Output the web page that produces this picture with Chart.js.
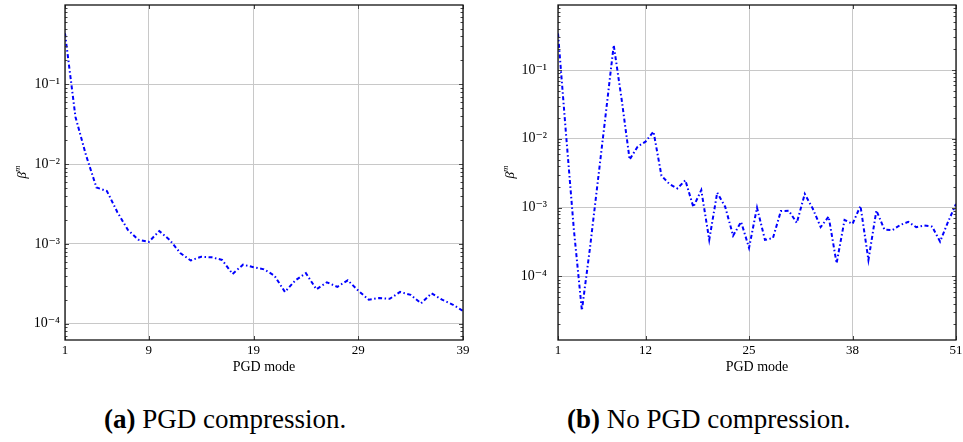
<!DOCTYPE html>
<html lang="en">
<head>
    <meta charset="UTF-8">
    <title>PGD mode amplitudes</title>
    <script src="https://cdn.jsdelivr.net/npm/chart.js"></script>
    <style>
        body {
            margin: 0;
            width: 963px;
            height: 442px;
            position: relative;
            overflow: hidden;
            background: #fff;
            font-family: 'Liberation Serif', 'DejaVu Serif', serif;
            color: #000;
        }

        .wrap {
            position: absolute;
            top: 0;
            height: 380px;
        }

        .ytitle {
            position: absolute;
            font-size: 13px;
            font-style: italic;
            transform: translate(-50%, -50%) rotate(-90deg);
            white-space: nowrap;
        }

        .ytitle sup {
            font-size: 9px;
            font-style: italic;
        }

        .xtitle {
            position: absolute;
            top: 359px;
            font-size: 14px;
            line-height: 16px;
            transform: translateX(-50%);
            white-space: nowrap;
        }

        .caption {
            position: absolute;
            top: 406px;
            font-size: 27px;
            line-height: 27px;
            white-space: nowrap;
        }
    </style>
</head>
<body>
    <div class="wrap" style="left:0; width:480px;"><canvas id="chartA"></canvas></div>
    <div class="wrap" style="left:480px; width:483px;"><canvas id="chartB"></canvas></div>

    <div class="ytitle" style="left:21px; top:172px;">β<sup>m</sup></div>
    <div class="ytitle" style="left:509px; top:172px;">β<sup>m</sup></div>
    <div class="xtitle" style="left:264px;">PGD mode</div>
    <div class="xtitle" style="left:757px;">PGD mode</div>

    <div class="caption" style="left:104px;"><b>(a)</b> PGD compression.</div>
    <div class="caption" style="left:567px;"><b>(b)</b> No PGD compression.</div>

    <script>
        // (a) PGD compression, modes 1..39
        const betaA = [0.435, 0.039, 0.013, 0.0051, 0.0046, 0.0025, 0.0015, 0.00113, 0.00106, 0.00145,
                       0.00112, 0.00077, 0.00062, 0.00069, 0.00068, 0.00063, 0.00042, 0.00055, 0.00051, 0.00048,
                       0.00040, 0.00025, 0.00035, 0.00043, 0.00027, 0.00033, 0.00029, 0.00035, 0.00026, 0.00020,
                       0.00021, 0.000205, 0.00025, 0.00023, 0.00018, 0.00024, 0.00020, 0.000174, 0.000145];
        const xTicksA = [1, 9, 19, 29, 39];

        // (b) No PGD compression, modes 1..51
        const betaB = [0.34, 0.012, 0.00047, 0.000032, 0.00025, 0.0024, 0.023, 0.23, 0.037, 0.0050,
                       0.0077, 0.0091, 0.0127, 0.0029, 0.0022, 0.0019, 0.0025, 0.00102, 0.0018, 0.00034,
                       0.00165, 0.00103, 0.00039, 0.00062, 0.00026, 0.0010, 0.00034, 0.00036, 0.00089, 0.00090,
                       0.00060, 0.00158, 0.00097, 0.00052, 0.00074, 0.000155, 0.00066, 0.00058, 0.00106, 0.000173,
                       0.00091, 0.00048, 0.00047, 0.00056, 0.00062, 0.00052, 0.00055, 0.00053, 0.00032, 0.00062,
                       0.00113];
        const xTicksB = [1, 12, 25, 38, 51];

        const supDigits = { '-': '⁻', '0': '⁰', '1': '¹', '2': '²', '3': '³', '4': '⁴', '5': '⁵', '6': '⁶', '7': '⁷', '8': '⁸', '9': '⁹' };

        function isDecade(v) {
            const l = Math.log10(v);
            return Math.abs(l - Math.round(l)) < 1e-9;
        }

        function decadeLabel(v) {
            const e = String(Math.round(Math.log10(v)));
            return '10' + e.split('').map(c => supDigits[c]).join('');
        }

        function logTicks(min, max) {
            const out = [];
            for (let e = Math.floor(Math.log10(min)); e <= Math.ceil(Math.log10(max)); e++) {
                for (let k = 1; k <= 9; k++) {
                    const v = k * Math.pow(10, e);
                    if (v >= min && v <= max) out.push(v);
                }
            }
            return out;
        }

        // frame with inward ticks, pgfplots style
        const framePlugin = {
            id: 'frame',
            afterDatasetsDraw(chart) {
                const { ctx, chartArea: a, scales: { x, y } } = chart;
                ctx.save();
                ctx.lineWidth = 1;
                ctx.strokeStyle = '#444';
                const seg = (x1, y1, x2, y2) => {
                    ctx.beginPath();
                    ctx.moveTo(x1, y1);
                    ctx.lineTo(x2, y2);
                    ctx.stroke();
                };
                y.ticks.forEach(t => {
                    const py = Math.round(y.getPixelForValue(t.value)) + 0.5;
                    const len = isDecade(t.value) ? 4 : 2.5;
                    seg(a.left, py, a.left + len, py);
                    seg(a.right, py, a.right - len, py);
                });
                x.ticks.forEach(t => {
                    const px = Math.round(x.getPixelForValue(t.value)) + 0.5;
                    seg(px, a.bottom, px, a.bottom - 4);
                    seg(px, a.top, px, a.top + 4);
                });
                ctx.strokeStyle = '#111';
                ctx.lineWidth = 1.3;
                ctx.strokeRect(a.left, a.top, a.right - a.left, a.bottom - a.top);
                ctx.restore();
            }
        };

        function makeChart(id, values, xTicks, yMin, yMax, yWidth, padRight, yLabelPad) {
            const points = values.map((v, i) => ({ x: i + 1, y: v }));
            const fontTick = { family: "'Liberation Serif', 'DejaVu Serif', serif", size: 14 };
            return new Chart(document.getElementById(id), {
                type: 'line',
                data: {
                    datasets: [{
                        data: points,
                        borderColor: '#0000ff',
                        borderWidth: 2,
                        borderDash: [4, 2.5, 1.5, 2.5],
                        pointRadius: 0,
                        tension: 0,
                        fill: false
                    }]
                },
                options: {
                    responsive: true,
                    maintainAspectRatio: false,
                    animation: false,
                    layout: { padding: { top: 5, right: padRight, left: 0, bottom: 0 } },
                    plugins: {
                        legend: { display: false },
                        tooltip: { enabled: false }
                    },
                    scales: {
                        x: {
                            type: 'linear',
                            min: xTicks[0],
                            max: xTicks[xTicks.length - 1],
                            afterBuildTicks: scale => { scale.ticks = xTicks.map(v => ({ value: v })); },
                            afterFit: scale => { scale.height = 40; scale.paddingLeft = 0; scale.paddingRight = 0; },
                            border: { display: false },
                            grid: { color: '#c8c8c8', lineWidth: 1, drawTicks: false },
                            ticks: { color: '#000', font: { ...fontTick, size: 13 }, padding: 3, autoSkip: false, maxRotation: 0 }
                        },
                        y: {
                            type: 'logarithmic',
                            min: yMin,
                            max: yMax,
                            afterBuildTicks: scale => {
                                scale.ticks = logTicks(yMin, yMax).map(v => ({ value: v, major: isDecade(v) }));
                            },
                            afterFit: scale => { scale.width = yWidth; scale.paddingTop = 0; scale.paddingBottom = 0; },
                            border: { display: false },
                            grid: {
                                drawTicks: false,
                                lineWidth: 1,
                                color: c => (c.tick && isDecade(c.tick.value)) ? '#c8c8c8' : 'rgba(0,0,0,0)'
                            },
                            ticks: {
                                color: '#000',
                                font: fontTick,
                                padding: yLabelPad,
                                autoSkip: false,
                                callback: v => isDecade(v) ? decadeLabel(v) : ''
                            }
                        }
                    }
                },
                plugins: [framePlugin]
            });
        }

        makeChart('chartA', betaA, xTicksA, 6.25e-5, 0.986, 65, 17, 5);
        makeChart('chartB', betaB, xTicksB, 1.19e-5, 0.881, 78, 7, 11);
    </script>
</body>
</html>
